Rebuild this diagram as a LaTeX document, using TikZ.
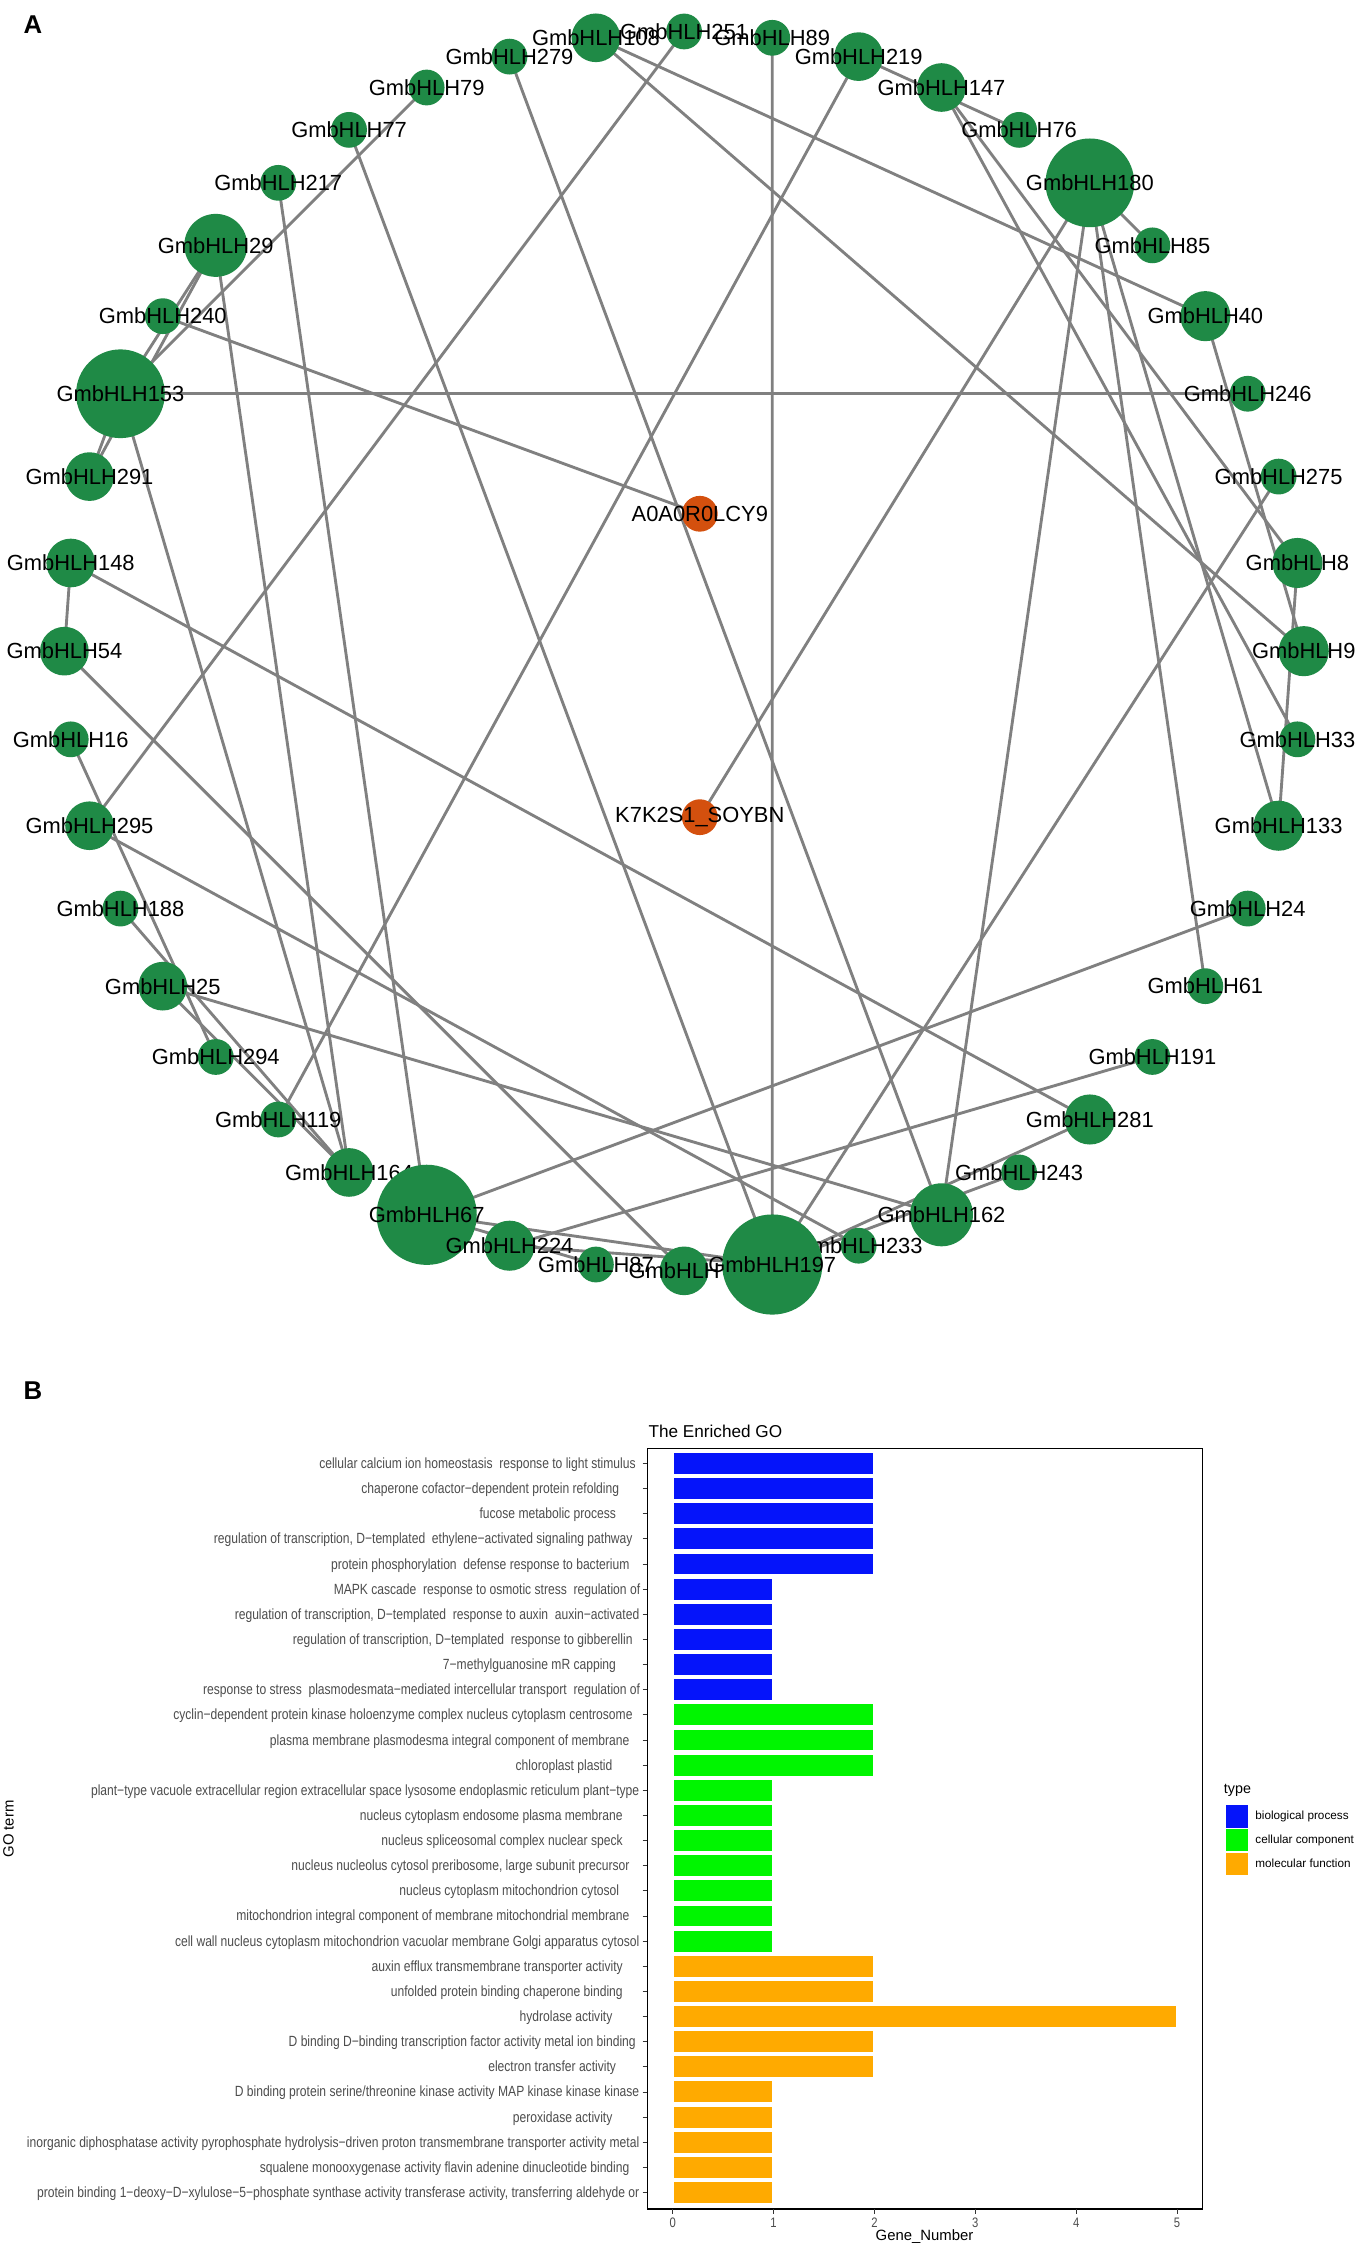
\documentclass[tikz,border=0pt]{standalone}
\usepackage{fontspec}
\setmainfont{Liberation Sans}
\newfontfamily\narrowfont[FakeStretch=0.82]{Liberation Sans}
\usetikzlibrary{calc}
\pgfdeclarelayer{bg}
\pgfsetlayers{bg,main}
\definecolor{nodegreen}{RGB}{31,138,70}
\definecolor{nodered}{RGB}{212,80,14}
\definecolor{edgegray}{RGB}{128,128,128}
\definecolor{bpblue}{RGB}{5,20,250}
\definecolor{ccgreen}{RGB}{0,245,0}
\definecolor{mforange}{RGB}{255,170,0}
\definecolor{txtgray}{RGB}{77,77,77}
\definecolor{tickgray}{RGB}{51,51,51}
\newcommand{\gobar}[5]{%
  \pgfmathsetmacro{\ycen}{-(1022.6+(#1-1)*17.565)}%
  \fill[#3] (470.8,{\ycen-7.3}) rectangle ({470+#2*70.5-0.8},{\ycen+7.3});%
  \draw[tickgray,line width=0.6pt] (449,\ycen) -- (452.5,\ycen);%
  \node[golab,anchor=base east] (g#1) at (#4,{\ycen-3.5}) {#5};%
}
\begin{document}
\begin{tikzpicture}[x=1pt,y=1pt,
  gnode/.style={circle,fill=nodegreen,draw=none,inner sep=0pt},
  rnode/.style={circle,fill=nodered,draw=none,inner sep=0pt,minimum size=25pt},
  nlab/.style={inner sep=0pt,font=\fontsize{15.3}{16}\selectfont,text=black},
  edge/.style={draw=edgegray,line width=2pt},
  golab/.style={inner sep=0pt,font=\narrowfont\fontsize{10.3}{11}\selectfont,text=txtgray},
  ticklab/.style={inner sep=0pt,font=\narrowfont\fontsize{9.6}{10}\selectfont,text=txtgray},
  axlab/.style={inner sep=0pt,font=\fontsize{10.4}{11}\selectfont,text=black},
  leglab/.style={inner sep=0pt,font=\fontsize{8.2}{9}\selectfont,text=black,anchor=west},
  panel/.style={inner sep=0pt,font=\bfseries\fontsize{18}{18}\selectfont,text=black}
]
\useasboundingbox (0,0) rectangle (948,-1568);

\node[panel] (pA) at (23,-17) {A};
\node[panel] (pB) at (23,-972) {B};

% ---------- network nodes (drawn in the reference's stacking order)
\foreach \i/\r/\t in {43/17/108,42/12.5/279,41/12.5/79,40/12.5/77,39/12.5/217,38/22/29,37/12.5/240,36/31/153,35/17/291,34/17/148,33/17/54,32/12.5/16,31/17/295,30/12.5/188,29/17/25,28/12.5/294,27/12.5/119,26/17/164,25/35/67,24/17.5/224,23/12.5/87}{
  \node[gnode,minimum size={2*\r pt}] (n\i) at ({478+433*cos(90-\i*360/44)},{-455+433*sin(90-\i*360/44)}) {};
  \node[nlab] (t\i) at (n\i.center) {GmbHLH\t};
}
\node[gnode,minimum size=34pt] (n22) at ({478+433*cos(90-22*360/44)},{-455+433*sin(90-22*360/44)}) {};
\node[nlab,anchor=west] (t22) at ($(n22.center)+(-39,0)$) {GmbHLH};
\foreach \i/\r/\t in {20/12.5/233,19/22/162,18/12.5/243,17/17.5/281,16/12.5/191,15/12.5/61,14/12.5/24,13/17.5/133,12/12.5/33,11/17.5/9,10/17.5/8,9/12.5/275,8/12.5/246,7/17.5/40,6/12.5/85,5/31/180,4/12.5/76,3/17/147,2/17/219,1/12.5/89,21/35/197,0/12.5/251}{
  \node[gnode,minimum size={2*\r pt}] (n\i) at ({478+433*cos(90-\i*360/44)},{-455+433*sin(90-\i*360/44)}) {};
  \node[nlab] (t\i) at (n\i.center) {GmbHLH\t};
}
\node[rnode] (nA) at (489,-359) {};
\node[nlab] (tA) at (nA.center) {A0A0R0LCY9};
\node[rnode] (nK) at (489,-571) {};
\node[nlab] (tK) at (nK.center) {K7K2S1\_SOYBN};

% ---------- background and network edges (under the nodes)
\begin{pgfonlayer}{bg}
\fill[white] (0,0) rectangle (948,-1568);
\foreach \a/\b in {36/8,1/21,34/33,34/17,31/0,31/20,43/7,43/11,42/19,2/27,2/4,3/12,3/10,5/6,5/13,5/15,5/19,7/11,10/13,9/21,14/25,16/24,21/17,21/18,29/19,29/26,30/26,36/26,38/26,38/36,38/35,36/35,41/36,39/25,40/21,32/28,33/22,25/21,24/21,25/23}{
  \draw[edge] (n\a.center) -- (n\b.center);
}
\draw[edge] (n37.center) -- (nA.center);
\draw[edge] (n5.center) -- (nK.center);
\end{pgfonlayer}

% ---------- GO bar chart
\node[inner sep=0pt,anchor=west,font=\fontsize{12}{12}\selectfont] (title) at (453,-1000) {The Enriched GO};
\gobar{1}{2}{bpblue}{444.4}{cellular calcium ion homeostasis\ \ response to light stimulus}
\gobar{2}{2}{bpblue}{432.8}{chaperone cofactor−dependent protein refolding}
\gobar{3}{2}{bpblue}{430.6}{fucose metabolic process}
\gobar{4}{2}{bpblue}{442.2}{regulation of transcription, D−templated\ \ ethylene−activated signaling pathway}
\gobar{5}{2}{bpblue}{440}{protein phosphorylation\ \ defense response to bacterium}
\gobar{6}{1}{bpblue}{447.5}{MAPK cascade\ \ response to osmotic stress\ \ regulation of}
\gobar{7}{1}{bpblue}{446.9}{regulation of transcription, D−templated\ \ response to auxin\ \ auxin−activated}
\gobar{8}{1}{bpblue}{442.2}{regulation of transcription, D−templated\ \ response to gibberellin}
\gobar{9}{1}{bpblue}{430.6}{7−methylguanosine mR capping}
\gobar{10}{1}{bpblue}{447.5}{response to stress\ \ plasmodesmata−mediated intercellular transport\ \ regulation of}
\gobar{11}{2}{ccgreen}{442.2}{cyclin−dependent protein kinase holoenzyme complex nucleus cytoplasm centrosome}
\gobar{12}{2}{ccgreen}{440}{plasma membrane plasmodesma integral component of membrane}
\gobar{13}{2}{ccgreen}{428.1}{chloroplast plastid}
\gobar{14}{1}{ccgreen}{446.9}{plant−type vacuole extracellular region extracellular space lysosome endoplasmic reticulum plant−type}
\gobar{15}{1}{ccgreen}{435.3}{nucleus cytoplasm endosome plasma membrane}
\gobar{16}{1}{ccgreen}{435.3}{nucleus spliceosomal complex nuclear speck}
\gobar{17}{1}{ccgreen}{440}{nucleus nucleolus cytosol preribosome, large subunit precursor}
\gobar{18}{1}{ccgreen}{432.8}{nucleus cytoplasm mitochondrion cytosol}
\gobar{19}{1}{ccgreen}{440}{mitochondrion integral component of membrane mitochondrial membrane}
\gobar{20}{1}{ccgreen}{446.9}{cell wall nucleus cytoplasm mitochondrion vacuolar membrane Golgi apparatus cytosol}
\gobar{21}{2}{mforange}{435.3}{auxin efflux transmembrane transporter activity}
\gobar{22}{2}{mforange}{435.3}{unfolded protein binding chaperone binding}
\gobar{23}{5}{mforange}{428.1}{hydrolase activity}
\gobar{24}{2}{mforange}{444.4}{D binding D−binding transcription factor activity metal ion binding}
\gobar{25}{2}{mforange}{430.6}{electron transfer activity}
\gobar{26}{1}{mforange}{446.9}{D binding protein serine/threonine kinase activity MAP kinase kinase kinase}
\gobar{27}{1}{mforange}{428.1}{peroxidase activity}
\gobar{28}{1}{mforange}{446.9}{inorganic diphosphatase activity pyrophosphate hydrolysis−driven proton transmembrane transporter activity metal}
\gobar{29}{1}{mforange}{440}{squalene monooxygenase activity flavin adenine dinucleotide binding}
\gobar{30}{1}{mforange}{446.9}{protein binding 1−deoxy−D−xylulose−5−phosphate synthase activity transferase activity, transferring aldehyde or}

\draw[black,line width=0.8pt] (452.5,-1012) rectangle (840,-1543.5);
\foreach \k in {0,...,5}{
  \draw[tickgray,line width=0.6pt] ({470+\k*70.5},-1543.5) -- ({470+\k*70.5},-1547);
  \node[ticklab] (xt\k) at ({470+\k*70.5},-1553) {\k};
}
\node[axlab] (xlab) at (646,-1563) {Gene\_Number};
\node[axlab,rotate=90] (ylab) at (6,-1278) {GO term};

% legend
\node[inner sep=0pt,anchor=west,font=\fontsize{10}{10}\selectfont] (legt) at (855,-1251) {type};
\fill[bpblue] (857,-1261) rectangle (872,-1277);
\fill[ccgreen] (857,-1278) rectangle (872,-1293.5);
\fill[mforange] (857,-1294.5) rectangle (872,-1310);
\node[leglab] (lg1) at (877,-1269) {biological process};
\node[leglab] (lg2) at (877,-1285.7) {cellular component};
\node[leglab] (lg3) at (877,-1302.3) {molecular function};
\end{tikzpicture}
\end{document}
